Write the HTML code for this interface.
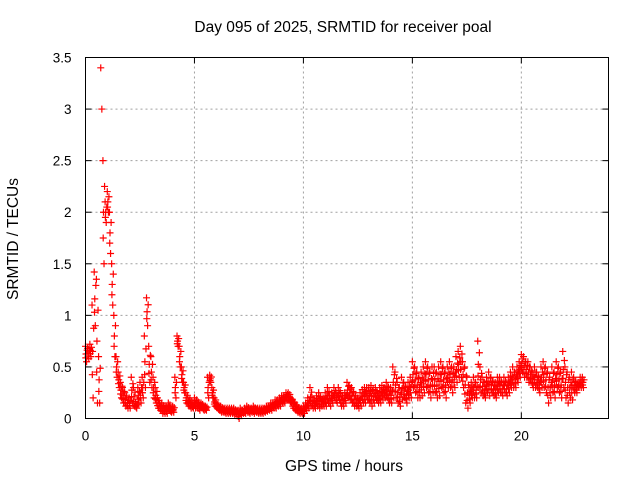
<!DOCTYPE html>
<html><head><meta charset="utf-8"><style>
body{margin:0;background:#fff;}
svg{display:block;font-family:"Liberation Sans",sans-serif;}
</style></head><body>
<svg id="chart" width="640" height="480" viewBox="0 0 640 480">
<rect width="640" height="480" fill="#fff"/>
<text x="343" y="32" font-size="15.5" text-anchor="middle">Day 095 of 2025, SRMTID for receiver poal</text>
<text x="344" y="471" font-size="15.5" text-anchor="middle">GPS time / hours</text>
<text transform="translate(18,239) rotate(-90)" font-size="15.5" text-anchor="middle">SRMTID / TECUs</text>
<g id="grid"></g>
<g id="axes"></g>
<g id="points"></g>
<rect x="85.5" y="57.5" width="523" height="361" fill="none" stroke="#000" stroke-width="1"/>
</svg>
<script>
const xTicks=[0,5,10,15,20];
const yTicks=[0,0.5,1,1.5,2,2.5,3,3.5];
const yTickLabels=["0","0.5","1","1.5","2","2.5","3","3.5"];
const hiVals=[.70,.68,.72,1.1,1.42,1.35,.6,3.4,2.5,2.1,
2.2,2.0,1.5,1.0,.6,.45,.35,.3,.25,.2,
.2,.4,.3,.15,.3,.35,.4,.8,1.17,.7,
.6,.4,.3,.2,.15,.15,.12,.12,.15,.1,
.12,.4,.8,.7,.5,.35,.25,.2,.18,.15,
.2,.18,.15,.15,.12,.12,.4,.42,.3,.2,
.15,.12,.12,.1,.1,.1,.1,.1,.1,.08,
.08,.1,.08,.1,.12,.1,.1,.12,.1,.1,
.1,.1,.1,.12,.12,.15,.15,.18,.18,.2,
.22,.22,.25,.25,.2,.18,.15,.12,.1,.1,
.12,.15,.2,.3,.2,.18,.22,.25,.2,.2,
.25,.3,.22,.25,.3,.25,.3,.25,.22,.25,
.35,.32,.3,.25,.22,.2,.25,.28,.3,.3,
.3,.32,.28,.3,.25,.3,.32,.3,.35,.3,
.3,.5,.45,.35,.3,.4,.35,.3,.35,.4,
.55,.5,.45,.4,.45,.5,.55,.5,.45,.5,
.5,.45,.5,.55,.5,.45,.5,.55,.5,.5,
.6,.65,.7,.55,.5,.4,.3,.35,.4,.35,
.75,.5,.4,.35,.4,.45,.4,.35,.35,.4,
.4,.35,.4,.35,.4,.45,.5,.45,.5,.55,
.62,.6,.55,.55,.5,.45,.5,.45,.4,.5,
.55,.5,.45,.4,.5,.45,.55,.5,.45,.65,
.5,.45,.4,.45,.4,.35,.35,.4,.4];
const loVals=[.55,.58,.6,.2,.9,.15,.15,3.0,1.5,1.9,
2.0,1.6,1.1,.6,.4,.3,.2,.15,.12,.1,
.1,.15,.12,.1,.15,.15,.2,.3,.9,.35,
.3,.2,.15,.1,.08,.05,.05,.05,.08,.06,
.06,.2,.7,.5,.35,.25,.15,.12,.1,.1,
.1,.1,.08,.1,.08,.08,.2,.35,.2,.12,
.1,.08,.06,.06,.05,.05,.05,.05,.04,.04,
.0,.03,.05,.05,.06,.05,.06,.05,.06,.05,
.05,.05,.06,.07,.08,.08,.1,.1,.12,.12,
.15,.15,.18,.18,.15,.1,.08,.06,.05,.05,
.05,.08,.1,.12,.1,.1,.12,.1,.12,.12,
.12,.15,.12,.15,.18,.15,.18,.12,.12,.15,
.2,.18,.15,.12,.12,.1,.12,.15,.15,.18,
.15,.12,.15,.18,.15,.15,.18,.2,.2,.15,
.15,.2,.2,.15,.12,.18,.2,.15,.2,.2,
.3,.25,.2,.2,.22,.25,.3,.25,.2,.25,
.25,.2,.22,.3,.25,.2,.3,.3,.25,.3,
.35,.4,.4,.3,.15,.1,.15,.2,.2,.2,
.3,.25,.22,.2,.25,.22,.25,.22,.2,.25,
.25,.22,.25,.22,.25,.3,.3,.3,.35,.4,
.45,.4,.4,.35,.35,.3,.3,.3,.25,.3,
.3,.25,.15,.2,.25,.2,.3,.25,.2,.3,
.2,.15,.2,.18,.25,.25,.3,.3,.3];
const X0=85.5,X1=608.5,Y0=418.5,Y1=57.5,XMAX=24,YMAX=3.5;
function xs(t){return X0+(X1-X0)*t/XMAX;}
function ys(v){return Y0-(Y0-Y1)*v/YMAX;}
const NS="http://www.w3.org/2000/svg";
const grid=document.getElementById('grid'),axes=document.getElementById('axes'),pts=document.getElementById('points');
function mk(tag,attrs,parent){const e=document.createElementNS(NS,tag);for(const k in attrs)e.setAttribute(k,attrs[k]);parent.appendChild(e);return e;}
xTicks.forEach(t=>{
  const x=xs(t);
  if(t>0){const g=mk('line',{x1:x,x2:x,y1:Y0,y2:Y1,stroke:'#a0a0a0','stroke-dasharray':'2,3'},grid);
  
  }
  const a=mk('line',{x1:x,x2:x,y1:Y0,y2:Y0-6,stroke:'#000'},axes);
  
  
  const b=mk('line',{x1:x,x2:x,y1:Y1,y2:Y1+6,stroke:'#000'},axes);
  
  
  const l=mk('text',{x:x,y:Y0+22,'font-size':'13.5','text-anchor':'middle'},axes);
  l.textContent=String(t);
  
  
});
yTicks.forEach((v,i)=>{
  const y=ys(v);
  if(v>0&&v<YMAX){const g=mk('line',{x1:X0,x2:X1,y1:y,y2:y,stroke:'#a0a0a0','stroke-dasharray':'2,3'},grid);
  
  }
  const a=mk('line',{x1:X0,x2:X0+6,y1:y,y2:y,stroke:'#000'},axes);
  
  
  const b=mk('line',{x1:X1,x2:X1-6,y1:y,y2:y,stroke:'#000'},axes);
  
  
  const l=mk('text',{x:X0-14,y:y+5,'font-size':'13.5','text-anchor':'end'},axes);
  l.textContent=yTickLabels[i];
  
  
});
function plus(t,v){
  const x=xs(t),y=ys(v);
  const p=mk('path',{d:`M${x-3.5} ${y}H${x+3.5}M${x} ${y-3.5}V${y+3.5}`,stroke:'#ff0000','stroke-width':'1.2',fill:'none'},pts);
  
  
}
hiVals.forEach((v,i)=>{
  const t=i/10,lo=loVals[i];
  plus(t,v);
  plus(t+0.05,lo);
  if(v<2.9){
    plus(t+0.025,(v+lo)/2);
    plus(t+0.075,(v*3+lo)/4);
    plus(t+0.0125,(v+lo*3)/4);
  }
});
</script>
</body></html>
